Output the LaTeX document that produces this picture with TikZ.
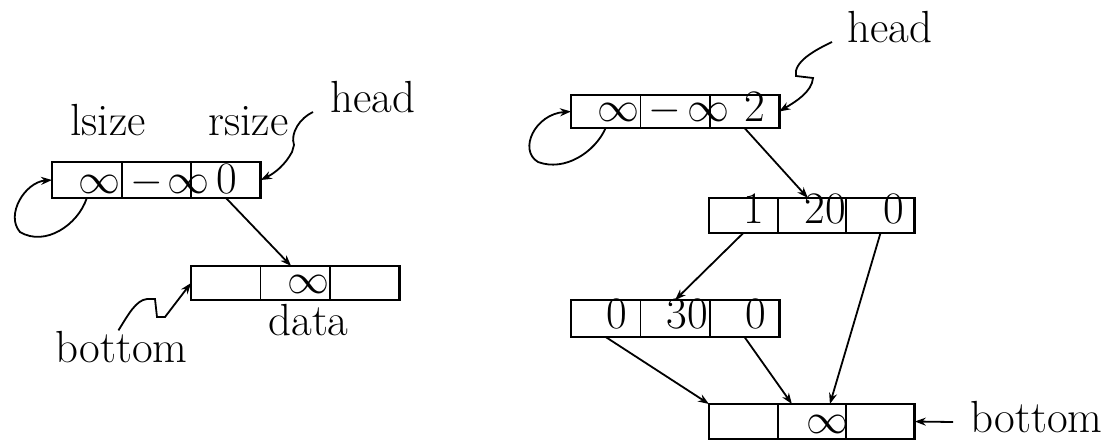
\documentclass[tikz,border=0pt]{standalone}
\usetikzlibrary{arrows.meta,calc}

\tikzset{
  cell/.style={draw, line width=0.9pt, inner sep=0pt, outer sep=0pt, anchor=north west},
  frame/.style={line width=1.4pt},
  lab/.style={inner sep=0pt, anchor=base west, font=\fontsize{22.5}{27}\selectfont},
  link/.style={line width=0.9pt, -{Stealth[length=5.5pt,width=4pt]}},
}

% math symbols at the label size
\newcommand\bigmath[1]{\scalebox{2.1}{\normalsize$#1$}}

% three-cell record: name, x, y (top left), cell width, cell height
\newcommand\recordbox[5]{%
  \node[cell, minimum width=#4, minimum height=#5] (#1-1) at (#2,#3) {};
  \node[cell, minimum width=#4, minimum height=#5] (#1-2) at (#1-1.north east) {};
  \node[cell, minimum width=#4, minimum height=#5] (#1-3) at (#1-2.north east) {};
  \draw[frame] (#1-1.north west) rectangle (#1-3.south east);
}

\begin{document}
\begin{tikzpicture}[x=0.5pt, y=-0.5pt]
\useasboundingbox (0,0) rectangle (1117,440);

% ---------- empty list ----------
\recordbox{L}{52}{162}{34.8pt}{18pt}
\recordbox{B}{191}{266}{34.7pt}{17pt}

\node[lab] (lsize) at (70,135) {lsize};
\node[lab] (rsize) at (208,135) {rsize};
\node[lab] (headL) at (330,112) {head};
\node[lab] (bottomL) at (55,362) {bottom};
\node[lab] (data) at (268,335) {data};

\node[lab] (L1t) at (78,193) {\bigmath{\infty}};
\node[lab] (L2m) at (130,193) {\bigmath{-}};
\node[lab] (L2t) at (167,193) {\bigmath{\infty}};
\node[lab] (L3t) at (216,193) {0};
\node[lab] (B2t) at (287,293) {\bigmath{\infty}};

% self loop of the header
\draw[link] (L-1.south) .. controls (78,225) and (45,247) .. (20,232)
  .. controls (5,215) and (25,182) .. (L-1.west);
% header to bottom
\draw[link] (L-3.south) -- ([xshift=-2pt]B-2.north);
% head pointer
\coordinate (hL) at ([xshift=-8.5pt]headL.base west);
\draw[link] (hL) .. controls (300,118) and (290,133) .. (294,145)
  -- (292,152) .. controls (285,165) and (275,173) .. (L-3.east);
% bottom pointer
\coordinate (bL) at ([xshift=-1.5pt]bottomL.north);
\draw[link] (bL) .. controls (128,315) and (136,300) .. (147,299)
  -- (155,299) -- (157,317) -- (165,317) -- (B-1.west);

% ---------- list with two elements ----------
\recordbox{R}{571}{95}{34.7pt}{16.5pt}
\recordbox{M}{709}{198}{34.3pt}{17.5pt}
\recordbox{N}{571}{300}{34.7pt}{18.5pt}
\recordbox{T}{709}{404}{34.3pt}{17.5pt}

\node[lab] (headR) at (847,42) {head};
\node[lab] (bottomR) at (970,432) {bottom};

\node[lab] (R1t) at (597,121) {\bigmath{\infty}};
\node[lab] (R2m) at (648,121) {\bigmath{-}};
\node[lab] (R2t) at (687,121) {\bigmath{\infty}};
\node[lab] (R3t) at (744,121) {2};
\node[lab] (M1t) at (743,223) {1};
\node[lab] (M2t) at (804,223) {20};
\node[lab] (M3t) at (883,223) {0};
\node[lab] (N1t) at (606,328) {0};
\node[lab] (N2t) at (666,328) {30};
\node[lab] (N3t) at (745,328) {0};
\node[lab] (T2t) at (806,433) {\bigmath{\infty}};

% self loop of the header
\draw[link] (R-1.south) .. controls (595,152) and (565,172) .. (538,162)
  .. controls (518,150) and (535,114) .. (R-1.west);
% head pointer
\coordinate (hR) at ([xshift=-7.5pt]headR.base west);
\draw[link] (hR) .. controls (815,50) and (793,62) .. (796,76)
  -- (813,78) .. controls (812,92) and (795,102) .. (R-3.east);
% tree links
\draw[link] (R-3.south) -- ([xshift=-2pt]M-2.north);
\draw[link] (M-1.south) -- (N-2.north);
\draw[link] (M-3.south) -- ([xshift=9pt]T-2.north);
\draw[link] (N-1.south) -- (T-1.north west);
\draw[link] (N-3.south) -- ([xshift=-10pt]T-2.north);
% bottom pointer
\coordinate (bR) at (953,422);
\draw[link] (bR) -- (T-3.east);
\end{tikzpicture}
\end{document}
